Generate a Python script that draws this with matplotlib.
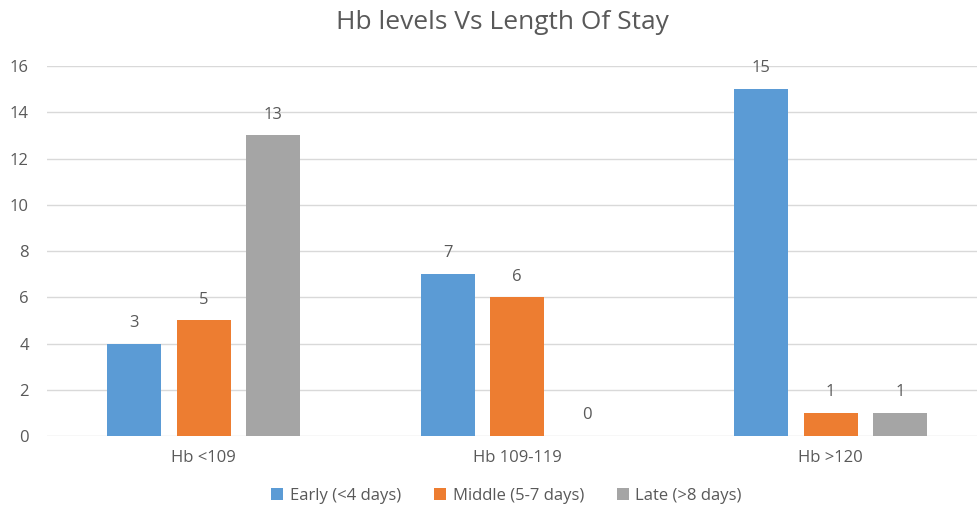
import numpy as np
import matplotlib.pyplot as plt

# chart data
categories = ['Hb <109', 'Hb 109-119', 'Hb >120']
series = ['Early (<4 days)', 'Middle (5-7 days)', 'Late (>8 days)']
heights = [[4, 7, 15],   # early
           [5, 6, 1],    # middle
           [13, 0, 1]]   # late
labels = [['3', '7', '15'],
          ['5', '6', '1'],
          ['13', '0', '1']]
colors = ['#5b9bd5', '#ed7d31', '#a5a5a5']

plt.rcParams['font.family'] = ['Open Sans', 'DejaVu Sans']
txt = '#595959'

fig = plt.figure(figsize=(9.78, 5.16), dpi=100)
ax = fig.add_axes([0.048, 0.155, 0.952, 0.717])

x = np.arange(len(categories))
w = 0.172
step = 0.222
for i, (name, h, lab, c) in enumerate(zip(series, heights, labels, colors)):
    xs = x + (i - 1) * step
    ax.bar(xs, h, width=w, color=c, label=name, zorder=3)
    for xi, hi, li in zip(xs, h, lab):
        ax.text(xi, hi + 0.55, li, ha='center', va='bottom', fontsize=12, color=txt)

ax.set_xlim(-0.5, 2.47)
ax.set_ylim(0, 16)
ax.set_yticks(range(0, 17, 2))
ax.set_xticks(x)
ax.set_xticklabels(categories)
ax.tick_params(axis='both', length=0, labelsize=12, colors=txt)
ax.tick_params(axis='x', pad=10)
ax.tick_params(axis='y', pad=13)
ax.grid(axis='y', color='#d9d9d9', linewidth=1, zorder=0)
for s in ax.spines.values():
    s.set_visible(False)

fig.suptitle('Hb levels Vs Length Of Stay', x=0.514, y=0.98, fontsize=19, color=txt)
fig.legend(loc='lower center', bbox_to_anchor=(0.518, -0.005), ncol=3, frameon=False,
           fontsize=12, labelcolor=txt, handlelength=0.7, handleheight=0.7,
           handletextpad=0.4, columnspacing=2.0)

fig.savefig('out.png', dpi=100)
